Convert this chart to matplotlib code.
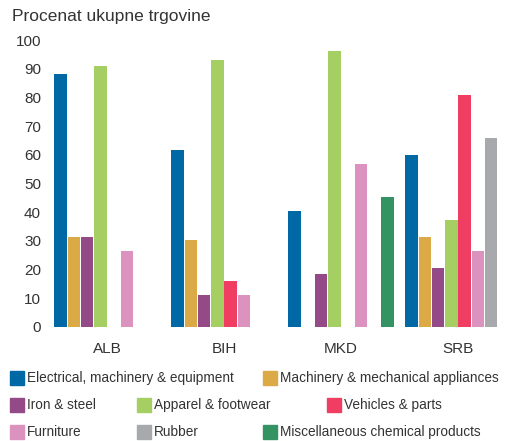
import numpy as np
import matplotlib
matplotlib.use("Agg")
import matplotlib.pyplot as plt
from matplotlib.patches import Rectangle

categories = ["ALB", "BIH", "MKD", "SRB"]
series_names = [
    "Electrical, machinery & equipment",
    "Machinery & mechanical appliances",
    "Iron & steel",
    "Apparel & footwear",
    "Vehicles & parts",
    "Furniture",
    "Rubber",
    "Miscellaneous chemical products",
]
colors = ["#0068a5", "#dba946", "#934a86", "#a6cf63",
          "#ef3e61", "#dc92bf", "#a8a9ad", "#339363"]
nan = np.nan
electrical = [88, 61.5, 40.5, 60]
machinery = [31.3, 30.3, nan, 31.3]
iron = [31.3, 11.3, 18.3, 20.4]
apparel = [91, 93, 96, 37.3]
vehicles = [nan, 16.2, nan, 81]
furniture = [26.4, 11.3, 56.7, 26.4]
rubber = [nan, nan, nan, 65.8]
misc_chem = [nan, nan, 45.4, nan]
values = [electrical, machinery, iron, apparel, vehicles, furniture, rubber, misc_chem]
yticks = list(range(0, 101, 10))
ylabel = "Procenat ukupne trgovine"

W, H = 515, 441
fig = plt.figure(figsize=(W / 100, H / 100), dpi=100)
font = "Liberation Sans"
txt = "#333333"

left_px, right_px = 48, 512
y0_px, y100_px = 327, 40
ax = fig.add_axes([left_px / W, (H - y0_px) / H, (right_px - left_px) / W,
                   (y0_px - y100_px) / H])
x = np.arange(len(categories))
slot = 13.3 / 117
bw = 0.106
for j, (vals, c) in enumerate(zip(values, colors)):
    ax.bar(x + (j - 3.5) * slot, vals, width=bw, color=c, linewidth=0)
ax.set_xlim((left_px - 107) / 117, (right_px - 107) / 117)
ax.set_ylim(0, 100)
ax.set_yticks(yticks)
ax.set_yticklabels([str(t) for t in yticks], fontsize=11, color=txt, family=font)
ax.set_xticks(x)
ax.set_xticklabels(categories, fontsize=11, color=txt, family=font)
ax.tick_params(axis="y", length=0, pad=5)
ax.tick_params(axis="x", length=0, pad=11)
for s in ax.spines.values():
    s.set_visible(False)

fig.text(12 / W, 1 - 17 / H, ylabel, fontsize=12.5, color=txt, family=font,
         va="center", ha="left")

# legend (flowing layout)
rows = [[(0, 10), (1, 263)],
        [(2, 10), (3, 137), (4, 327)],
        [(5, 10), (6, 137), (7, 263)]]
row_y = [378, 405, 432]
ps = 14
for r, items in zip(row_y, rows):
    for idx, px in items:
        fig.patches.append(Rectangle((px / W, 1 - (r + ps / 2) / H), ps / W, ps / H,
                                     transform=fig.transFigure, color=colors[idx]))
        fig.text((px + ps + 3) / W, 1 - r / H, series_names[idx], fontsize=9.8,
                 color=txt, family=font, va="center", ha="left")

fig.savefig("out.png", dpi=100)
